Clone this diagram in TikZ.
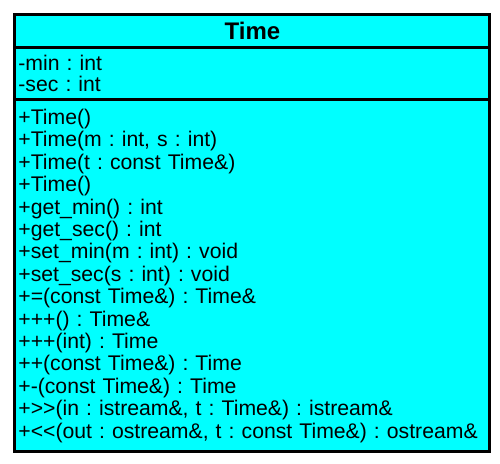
\documentclass[tikz,border=0pt]{standalone}
\usepackage{fontspec}
\setmainfont{Liberation Sans}
\usetikzlibrary{matrix}
\definecolor{umlcyan}{RGB}{0,255,255}
\frenchspacing
\hyphenpenalty=10000
\exhyphenpenalty=10000
\newcommand{\attrtext}{-min : int\\ -sec : int}
\newcommand{\optext}{+Time()\\ +Time(m : int, s : int)\\ +Time(t : const Time\&)\\ +Time()\\
 +get\_min() : int\\ +get\_sec() : int\\ +set\_min(m : int) : void\\ +set\_sec(s : int) : void\\
 +=(const Time\&) : Time\&\\ +++() : Time\&\\ +++(int) : Time\\ ++(const Time\&) : Time\\
 +-(const Time\&) : Time\\ +>{}>(in : istream\&, t : Time\&) : istream\&\\
 +<{}<(out : ostream\&, t : const Time\&) : ostream\&}

\begin{document}
\begin{tikzpicture}[x=0.5pt,y=-0.5pt,
    box/.style={draw,line width=1.5pt,fill=umlcyan,minimum width=237.5pt,text width=234pt,inner xsep=0pt,inner ysep=0pt,align=left,outer sep=0pt},
    title/.style={box,minimum height=16.5pt,align=center,font=\fontsize{12}{14}\selectfont\bfseries},
    attrs/.style={box,minimum height=26pt,font=\fontsize{10.6}{10.5}\selectfont},
    ops/.style={box,minimum height=176pt,font=\fontsize{10.6}{11.2}\selectfont}
]
\useasboundingbox (0,0) rectangle (500,463);

\matrix (Time) [matrix of nodes,row sep=-1.5pt,inner sep=0pt,anchor=north west] at (13,13)
{
|[title]| Time \\
|[attrs]| {\attrtext} \\
|[ops]| {\optext} \\
};
\end{tikzpicture}
\end{document}
